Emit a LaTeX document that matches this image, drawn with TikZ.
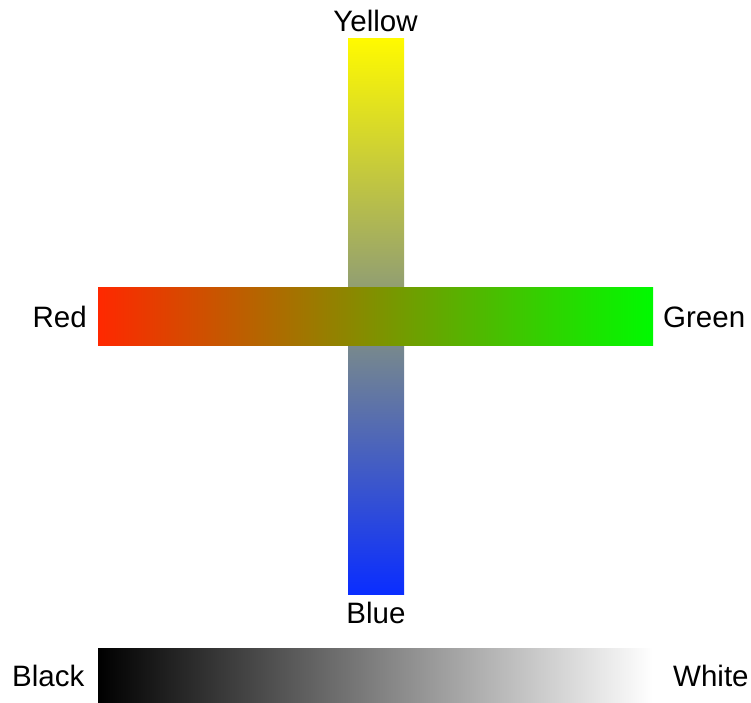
\documentclass[tikz,border=0pt]{standalone}
\usepackage{fontspec}
\setmainfont{Liberation Sans}
\definecolor{redend}{RGB}{255,40,0}
\definecolor{greenend}{RGB}{0,250,0}
\definecolor{yellowend}{RGB}{255,250,0}
\definecolor{blueend}{RGB}{10,45,255}
\tikzset{
  bar/.style={rectangle, draw=none, inner sep=0pt, outer sep=0pt},
  lbl/.style={inner sep=0pt, anchor=base, font=\fontsize{29.5}{35}\selectfont}
}
\begin{document}
\begin{tikzpicture}[x=1pt,y=1pt]
\useasboundingbox[fill=white] (0,0) rectangle (751,702);
\node[bar, minimum width=56pt, minimum height=555pt, top color=yellowend, bottom color=blueend] (vbar) at (376,385.5) {};
\node[bar, minimum width=555pt, minimum height=57pt, left color=redend, right color=greenend] (hbar) at (375.5,385.5) {};
\node[bar, minimum width=555pt, minimum height=54pt, left color=black, right color=white] (gbar) at (375.5,27) {};
\node[lbl] (yellow) at (375.5,670.3) {Yellow};
\node[lbl] (blue) at (376,79) {Blue};
\node[lbl, anchor=base east] (red) at (87,374) {Red};
\node[lbl, anchor=base west] (green) at (663,374) {Green};
\node[lbl, anchor=base west] (black) at (12,16) {Black};
\node[lbl, anchor=base west] (white) at (673,16) {White};
\end{tikzpicture}
\end{document}
